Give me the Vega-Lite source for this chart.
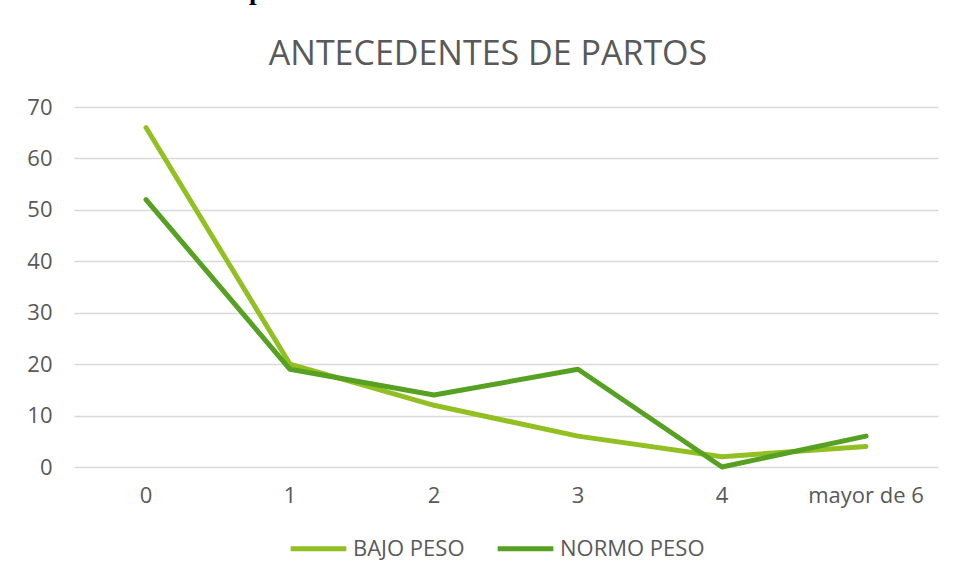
{
  "$schema": "https://vega.github.io/schema/vega-lite/v6.json",
  "width": 864,
  "height": 360,
  "autosize": {"type": "none"},
  "padding": {"left": 74, "top": 107, "right": 16, "bottom": 113},
  "background": "white",
  "title": {
    "text": "ANTECEDENTES DE PARTOS",
    "anchor": "middle",
    "dx": -18,
    "dy": 122.5,
    "offset": 0,
    "baseline": "alphabetic",
    "font": "Open Sans",
    "fontSize": 34,
    "fontWeight": "normal",
    "color": "#595959"
  },
  "data": {
    "values": [
      {"partos": "0", "serie": "BAJO PESO", "valor": 66},
      {"partos": "1", "serie": "BAJO PESO", "valor": 20},
      {"partos": "2", "serie": "BAJO PESO", "valor": 12},
      {"partos": "3", "serie": "BAJO PESO", "valor": 6},
      {"partos": "4", "serie": "BAJO PESO", "valor": 2},
      {"partos": "mayor de 6", "serie": "BAJO PESO", "valor": 4},
      {"partos": "0", "serie": "NORMO PESO", "valor": 52},
      {"partos": "1", "serie": "NORMO PESO", "valor": 19},
      {"partos": "2", "serie": "NORMO PESO", "valor": 14},
      {"partos": "3", "serie": "NORMO PESO", "valor": 19},
      {"partos": "4", "serie": "NORMO PESO", "valor": 0},
      {"partos": "mayor de 6", "serie": "NORMO PESO", "valor": 6}
    ]
  },
  "mark": {"type": "line", "strokeWidth": 5, "strokeCap": "round", "strokeJoin": "round"},
  "encoding": {
    "x": {
      "field": "partos",
      "type": "ordinal",
      "sort": ["0", "1", "2", "3", "4", "mayor de 6"],
      "scale": {"type": "band", "paddingInner": 0, "paddingOuter": 0},
      "axis": {
        "title": null,
        "labelAngle": 0,
        "ticks": false,
        "domain": false,
        "grid": false,
        "labelPadding": 18,
        "labelFont": "Open Sans",
        "labelFontSize": 22,
        "labelColor": "#595959"
      }
    },
    "y": {
      "field": "valor",
      "type": "quantitative",
      "scale": {"domain": [0, 70], "nice": false},
      "axis": {
        "title": "Antecedentes de partos",
        "titleX": -19,
        "titleY": -108.5,
        "titleAngle": 0,
        "titleAlign": "left",
        "titleBaseline": "alphabetic",
        "titleFont": "Liberation Serif",
        "titleFontSize": 27,
        "titleFontWeight": "bold",
        "titleColor": "#000000",
        "values": [0, 10, 20, 30, 40, 50, 60, 70],
        "ticks": false,
        "domain": false,
        "gridColor": "#d9d9d9",
        "gridWidth": 1.5,
        "labelPadding": 22,
        "labelFont": "Open Sans",
        "labelFontSize": 22,
        "labelColor": "#595959"
      }
    },
    "color": {
      "field": "serie",
      "type": "nominal",
      "scale": {"domain": ["BAJO PESO", "NORMO PESO"], "range": ["#92C023", "#56A122"]},
      "legend": {
        "title": null,
        "orient": "none",
        "direction": "horizontal",
        "legendX": 214,
        "legendY": 411,
        "symbolType": "stroke",
        "symbolSize": 3100,
        "symbolStrokeWidth": 5,
        "labelOffset": 4,
        "columnPadding": 22,
        "labelFont": "Open Sans",
        "labelFontSize": 22,
        "labelColor": "#595959"
      }
    }
  },
  "config": {"view": {"stroke": null}}
}
